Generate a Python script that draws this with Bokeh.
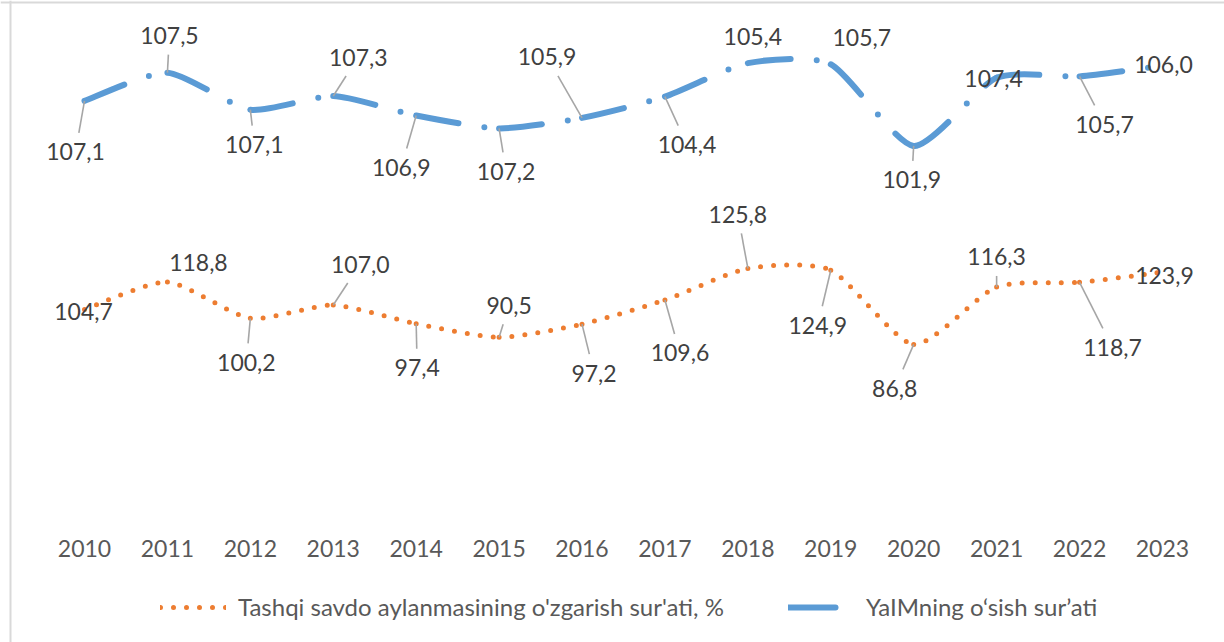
from bokeh.plotting import figure
from bokeh.models import Range1d, FixedTicker, Legend, LegendItem, Span
from bokeh.core.properties import value
from bokeh.embed import file_html
from bokeh.resources import INLINE

# ---------------- data ----------------
years = [2010, 2011, 2012, 2013, 2014, 2015, 2016, 2017, 2018, 2019, 2020, 2021, 2022, 2023]
trade_growth = [104.7, 118.8, 100.2, 107.0, 97.4, 90.5, 97.2, 109.6, 125.8, 124.9, 86.8, 116.3, 118.7, 123.9]
gdp_growth = [107.1, 107.5, 107.1, 107.3, 106.9, 107.2, 105.9, 104.4, 105.4, 105.7, 101.9, 107.4, 105.7, 106.0]
trade_name = "Tashqi savdo aylanmasining o'zgarish sur'ati, %"
gdp_name = "YaIMning o\u2018sish sur\u2019ati"

# data-label placement (screen px offsets from each point) and leader flags
gdp_label_dx = [-9, 2, 4, 25, -15, 7, -35, 22, 5, 31, -2, -3, 25, 1]
gdp_label_dy = [51, -37, 35, -39, 52, 43, -61, 48, -27, -27, 34, 1, 48, -1]
gdp_leader = [1, 1, 1, 1, 1, 1, 1, 1, 0, 0, 1, 0, 1, 0]
trade_label_dx = [-1, 31, -4, 27, 1, 10, 12, 15, -10, -13, -19, 0, 33, 2]
trade_label_dy = [2, -20, 44, -41, 44, -32, 49, 53, -54, 55, 44, -30, 65, 3]
trade_leader = [0, 0, 1, 1, 1, 1, 1, 1, 1, 1, 1, 1, 1, 0]

# ---------------- layout (frame covers the whole canvas) ----------------
FW, FH = 1224, 642
PX_X = 82.92          # px per year
PX_Y = 1.948          # px per percentage unit
FIRST_PX, ZERO_PX = 84, 513
X0 = years[0] - FIRST_PX / PX_X
X1 = X0 + FW / PX_X
Y1 = ZERO_PX / PX_Y
Y0 = Y1 - FH / PX_Y
SMOOTH = 0.11

BLUE = "#5B9BD5"
ORANGE = "#ED7D31"
FONT = "Lato"

p = figure(frame_width=FW, frame_height=FH, x_range=Range1d(X0, X1), y_range=Range1d(Y0, Y1),
           output_backend="svg", toolbar_location=None,
           min_border_left=0, min_border_right=0, min_border_top=0, min_border_bottom=0)
p.grid.visible = False
p.yaxis.visible = False
p.outline_line_color = None
p.background_fill_color = "white"
p.border_fill_color = "white"

xa = p.xaxis[0]
xa.fixed_location = 0
xa.ticker = FixedTicker(ticks=years)
xa.axis_line_color = None
xa.major_tick_line_color = None
xa.minor_tick_line_color = None
xa.major_tick_out = 0
xa.major_tick_in = 0
xa.major_label_standoff = 26
xa.major_label_text_font = FONT
xa.major_label_text_font_size = "23px"
xa.major_label_text_color = "#595959"

# chart-area border (left and top edges visible in the picture)
p.add_layout(Span(location=X0 + 10 / PX_X, dimension="height", line_color="#d9d9d9", line_width=2))
p.add_layout(Span(location=Y1 - 2 / PX_Y, dimension="width", line_color="#d9d9d9", line_width=2))

# stacked line chart: second series sits on top of the first
gdp_stacked = [t + g for t, g in zip(trade_growth, gdp_growth)]


def smooth_segments(xs, ys, k=SMOOTH):
    n = len(xs)
    out = {c: [] for c in ("x0", "y0", "x1", "y1", "cx0", "cy0", "cx1", "cy1")}
    for i in range(n - 1):
        ip = max(i - 1, 0)
        inx = min(i + 2, n - 1)
        out["x0"].append(xs[i]); out["y0"].append(ys[i])
        out["x1"].append(xs[i + 1]); out["y1"].append(ys[i + 1])
        out["cx0"].append(xs[i] + (xs[i + 1] - xs[ip]) * k)
        out["cy0"].append(ys[i] + (ys[i + 1] - ys[ip]) * k)
        out["cx1"].append(xs[i + 1] - (xs[inx] - xs[i]) * k)
        out["cy1"].append(ys[i + 1] - (ys[inx] - ys[i]) * k)
    return out


ts = smooth_segments(years, trade_growth)
p.bezier(**ts, line_color=ORANGE, line_width=5, line_dash="0 13", line_cap="round")
gs = smooth_segments(years, gdp_stacked)
p.bezier(**gs, line_color=BLUE, line_width=6, line_dash="43 26 0 26", line_cap="round")


def leaders(xs, ys, dxs, dys, flags, hw=36, hh=19):
    sx, sy, ex, ey = [], [], [], []
    for x, y, dx, dy, f in zip(xs, ys, dxs, dys, flags):
        if not f:
            continue
        t = min(hw / abs(dx) if dx else 1e9, hh / abs(dy) if dy else 1e9)
        if t >= 1:
            continue
        lx, ly = dx * (1 - t), dy * (1 - t)
        sx.append(x); sy.append(y)
        ex.append(x + lx / PX_X); ey.append(y - ly / PX_Y)
    return sx, sy, ex, ey


for xs, ys, dxs, dys, fl in ((years, trade_growth, trade_label_dx, trade_label_dy, trade_leader),
                             (years, gdp_stacked, gdp_label_dx, gdp_label_dy, gdp_leader)):
    sx, sy, ex, ey = leaders(xs, ys, dxs, dys, fl)
    p.segment(x0=sx, y0=sy, x1=ex, y1=ey, line_color="#a6a6a6", line_width=1.6)


def fmt(v):
    return f"{v:.1f}".replace(".", ",")


p.text(x=years, y=trade_growth, text=[fmt(v) for v in trade_growth],
       x_offset=trade_label_dx, y_offset=trade_label_dy,
       text_align="center", text_baseline="middle", text_font=value(FONT),
       text_font_size="23px", text_color="#404040")
p.text(x=years, y=gdp_stacked, text=[fmt(v) for v in gdp_growth],
       x_offset=gdp_label_dx, y_offset=gdp_label_dy,
       text_align="center", text_baseline="middle", text_font=value(FONT),
       text_font_size="23px", text_color="#404040")

# legend-only renderers (placed below the visible range)
leg_t = p.line(x=years[:2], y=[Y0 - 100, Y0 - 100], line_color=ORANGE, line_width=5,
               line_dash="0 13", line_cap="round")
leg_g = p.line(x=years[:2], y=[Y0 - 100, Y0 - 100], line_color=BLUE, line_width=6,
               line_dash="47 100", line_cap="round")
legend = Legend(items=[LegendItem(label=trade_name, renderers=[leg_t]),
                       LegendItem(label=gdp_name, renderers=[leg_g])],
                orientation="horizontal", location=(160, 21),
                glyph_width=66, glyph_height=20, label_standoff=12, spacing=64,
                padding=0, margin=0, border_line_color=None, background_fill_alpha=0,
                label_text_font=FONT, label_text_font_size="24px", label_text_color="#595959")
p.add_layout(legend, "center")

open("out.html", "w").write(file_html(p, INLINE))
